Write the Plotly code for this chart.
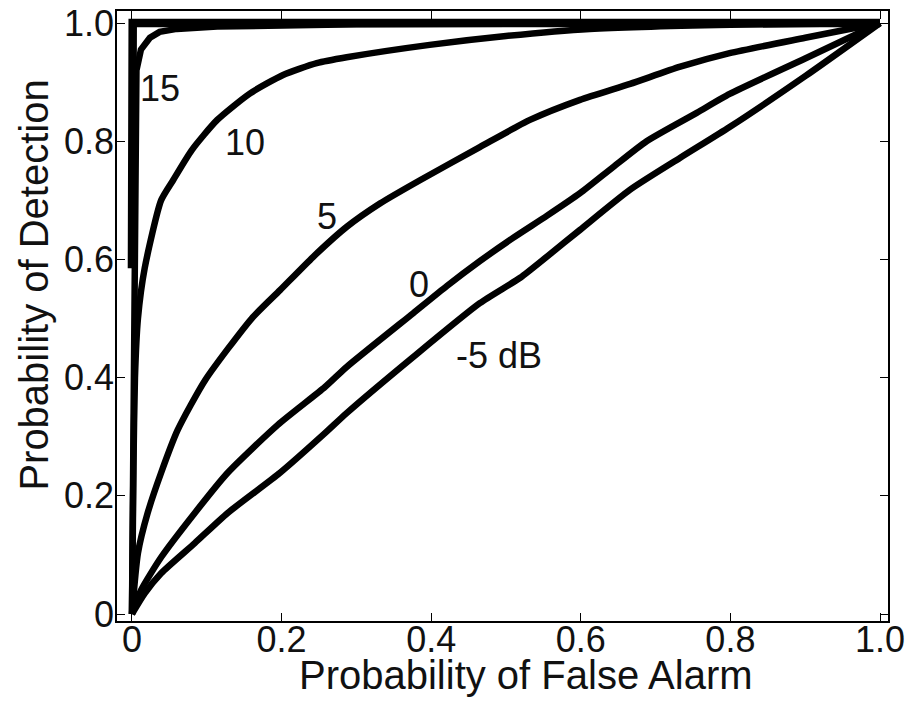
import plotly.graph_objects as go

# ROC curves: probability of false alarm (x) vs probability of detection (y)
pfa_20 = [0.0, 0.0, 0.001, 1.0]
pd_20 = [0.585, 0.97, 1.0, 1.0]

pfa_15 = [0.0, 0.002, 0.003, 0.004, 0.006, 0.012, 0.024, 0.037, 0.06, 0.114, 0.3, 1.0]
pd_15 = [0.0, 0.3, 0.6, 0.85, 0.92, 0.955, 0.975, 0.985, 0.99, 0.994, 0.998, 1.0]

pfa_10 = [0.0, 0.001, 0.002, 0.004, 0.008, 0.017, 0.039, 0.055, 0.08, 0.114, 0.158, 0.202,
          0.247, 0.287, 0.398, 0.5, 0.612, 0.8, 1.0]
pd_10 = [0.0, 0.12, 0.25, 0.40, 0.50, 0.585, 0.70, 0.734, 0.785, 0.836, 0.881, 0.912,
         0.932, 0.942, 0.963, 0.978, 0.99, 0.997, 1.0]

pfa_5 = [0.0, 0.008, 0.021, 0.039, 0.061, 0.098, 0.16, 0.198, 0.242, 0.287, 0.332, 0.385,
         0.465, 0.532, 0.599, 0.666, 0.733, 0.799, 0.9, 1.0]
pd_5 = [0.0, 0.103, 0.171, 0.239, 0.311, 0.396, 0.50, 0.548, 0.604, 0.655, 0.695, 0.734,
        0.790, 0.836, 0.870, 0.897, 0.926, 0.949, 0.975, 1.0]

pfa_0 = [0.0, 0.012, 0.039, 0.084, 0.128, 0.195, 0.258, 0.287, 0.376, 0.421, 0.465, 0.509,
         0.555, 0.599, 0.643, 0.688, 0.755, 0.799, 0.9, 1.0]
pd_0 = [0.0, 0.04, 0.096, 0.171, 0.239, 0.32, 0.384, 0.418, 0.509, 0.555, 0.597, 0.636,
        0.674, 0.712, 0.756, 0.800, 0.848, 0.880, 0.94, 1.0]

pfa_m5 = [0.0, 0.017, 0.039, 0.084, 0.128, 0.198, 0.258, 0.287, 0.376, 0.465, 0.519, 0.555,
          0.599, 0.666, 0.733, 0.799, 0.9, 1.0]
pd_m5 = [0.0, 0.035, 0.069, 0.120, 0.171, 0.239, 0.306, 0.340, 0.435, 0.526, 0.569, 0.605,
         0.650, 0.718, 0.772, 0.824, 0.91, 1.0]

labels = ["15", "10", "5", "0", "-5 dB"]
label_x = [0.037, 0.151, 0.261, 0.384, 0.49]
label_y = [0.89, 0.797, 0.673, 0.557, 0.437]

tick_vals = [0, 0.2, 0.4, 0.6, 0.8, 1.0]
tick_text = ["0", "0.2", "0.4", "0.6", "0.8", "1.0"]

x_title = "Probability of False Alarm"
y_title = "Probability of Detection"

FONT = "Liberation Sans, Arial, Helvetica, sans-serif"
TXT = "#111111"

fig = go.Figure()
series = [(pfa_m5, pd_m5, 6.5, "spline"), (pfa_0, pd_0, 6.5, "spline"),
          (pfa_5, pd_5, 6.5, "spline"), (pfa_10, pd_10, 6.5, "spline"),
          (pfa_15, pd_15, 6.5, "linear"), (pfa_20, pd_20, 8.5, "linear")]
for xs, ys, w, shp in series:
    line = dict(color="black", width=w, shape=shp)
    if shp == "spline":
        line["smoothing"] = 0.6
    fig.add_trace(go.Scatter(x=xs, y=ys, mode="lines", line=line,
                             showlegend=False, hoverinfo="skip"))

for t, x, y in zip(labels, label_x, label_y):
    fig.add_annotation(x=x, y=y, text=t, showarrow=False,
                       font=dict(family=FONT, size=36, color=TXT),
                       xanchor="center", yanchor="middle")

fig.add_annotation(xref="paper", yref="paper", x=0.530, y=-0.088, text=x_title,
                   showarrow=False, xanchor="center", yanchor="middle",
                   font=dict(family=FONT, size=40, color=TXT))
fig.add_annotation(xref="paper", yref="paper", x=-0.108, y=0.551, text=y_title,
                   showarrow=False, xanchor="center", yanchor="middle", textangle=-90,
                   font=dict(family=FONT, size=40, color=TXT))

axis_common = dict(
    showgrid=False, zeroline=False, showline=True, linecolor="black", linewidth=1.5,
    mirror="ticks", ticks="inside", ticklen=8, tickwidth=1.2, tickcolor="black",
    tickvals=tick_vals, ticktext=tick_text, automargin=False,
    tickfont=dict(family=FONT, size=36, color=TXT),
)

fig.update_layout(
    width=912, height=704,
    margin=dict(l=117, r=24, t=11, b=83),
    plot_bgcolor="white", paper_bgcolor="white",
    xaxis=dict(range=[-0.02, 1.0107], ticklabelstandoff=-14, **axis_common),
    yaxis=dict(range=[-0.0118, 1.0203], ticklabelstandoff=-6, **axis_common),
)

fig.write_html("out.html")
